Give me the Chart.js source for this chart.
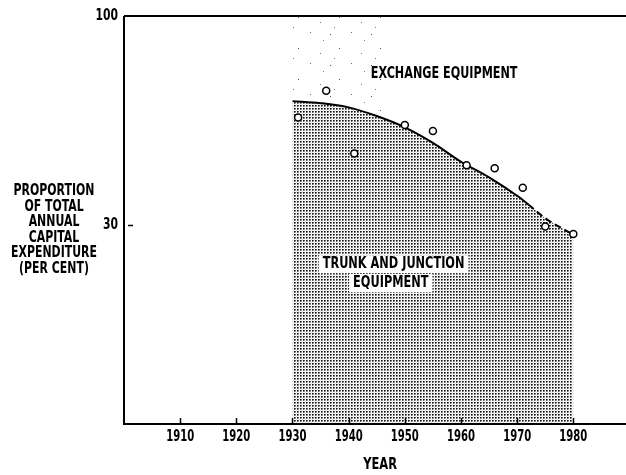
<!DOCTYPE html>
<html>
<head>
<meta charset="utf-8">
<script src="https://cdn.jsdelivr.net/npm/chart.js@4"></script>
<style>
  html, body { margin: 0; padding: 0; background: #fff; }
  canvas { display: block; }
</style>
</head>
<body>
<canvas id="c" width="626" height="475"></canvas>
<script>
// ---- data ----
const xTickYears = [1910, 1920, 1930, 1940, 1950, 1960, 1970, 1980];
const yTickValues = [30, 100];
const pointYears  = [1931, 1936, 1941, 1950, 1955, 1961, 1966, 1971, 1975, 1980];
const pointShares = [66, 75, 54, 63.5, 61.5, 50, 49, 42.5, 29.5, 27];
const curveYears  = [1930, 1935, 1940, 1945, 1950, 1955, 1960, 1965, 1970, 1972, 1975, 1980];
const curveShares = [71.5, 70.8, 69.4, 66.5, 62.7, 57.5, 51.2, 46.0, 39.8, 36.9, 32.3, 26.8];
const dashFromYear = 1972;
const exchangeYears = [1930, 1946];
const exchangeTop = [100, 100];
const yTitleLines = ['PROPORTION', 'OF TOTAL', 'ANNUAL', 'CAPITAL', 'EXPENDITURE', '(PER CENT)'];
const xTitle = 'YEAR';
const exchangeLabel = 'EXCHANGE EQUIPMENT';
const trunkLabelLines = ['TRUNK AND JUNCTION', 'EQUIPMENT'];

const FONT = "'DejaVu Sans Condensed', 'DejaVu Sans', sans-serif";

function makePattern(w, h, base, dots) {
  const c = document.createElement('canvas');
  c.width = w; c.height = h;
  const g = c.getContext('2d');
  g.fillStyle = base; g.fillRect(0, 0, w, h);
  dots.forEach(([x, y, col]) => { g.fillStyle = col; g.fillRect(x, y, 1, 1); });
  return g.createPattern(c, 'repeat');
}
const densePattern = makePattern(3, 3, '#ffffff', [[0,0,'#111'],[1,0,'#5a5a5a'],[0,1,'#666'],[1,1,'#aaa'],[2,2,'#e0e0e0']]);
const sparsePattern = makePattern(41, 31, 'rgba(255,255,255,0)', [[2,3,'#555'],[23,1,'#666'],[11,17,'#555'],[33,22,'#777'],[36,9,'#888'],[6,27,'#777']]);

const xy = (xs, ys) => xs.map((x, i) => ({ x, y: ys[i] }));

// draw horizontally condensed text (the reference uses a tall, narrow typeface)
function condText(ctx, t, x, y, sx, align) {
  ctx.save();
  ctx.translate(x, y);
  ctx.scale(sx, 1);
  ctx.textAlign = align || 'center';
  ctx.fillText(t, 0, 0);
  ctx.restore();
}

const framePlugin = {
  id: 'frame',
  afterDatasetsDraw(chart) {
    const { ctx, chartArea: a, scales: { x, y } } = chart;
    ctx.save();
    ctx.strokeStyle = '#000';
    ctx.lineWidth = 2;
    ctx.beginPath();
    ctx.moveTo(a.left, a.top); ctx.lineTo(chart.width, a.top);
    ctx.moveTo(a.left, a.top); ctx.lineTo(a.left, a.bottom + 1);
    ctx.moveTo(a.left - 1, a.bottom); ctx.lineTo(chart.width, a.bottom);
    ctx.stroke();
    // inward tick marks
    ctx.lineWidth = 1.5;
    ctx.beginPath();
    x.ticks.forEach(t => {
      const px = Math.round(x.getPixelForValue(t.value)) + 0.5;
      ctx.moveTo(px, a.bottom); ctx.lineTo(px, a.bottom - 6);
    });
    const py = Math.round(y.getPixelForValue(30)) + 0.5;
    ctx.moveTo(a.left + 4, py); ctx.lineTo(a.left + 9, py);
    ctx.stroke();

    ctx.fillStyle = '#000';
    ctx.textBaseline = 'middle';
    // tick labels (from the scales' own ticks)
    ctx.font = 'bold 16px ' + FONT;
    x.ticks.forEach(t => condText(ctx, String(t.value), x.getPixelForValue(t.value), a.bottom + 13, 0.7));
    y.ticks.forEach(t => condText(ctx, String(t.value), a.left - 6, y.getPixelForValue(t.value), 0.75, 'right'));

    ctx.font = 'bold 15px ' + FONT;
    // y title (horizontal, multi-line)
    const cy = y.getPixelForValue(30) + 5;
    yTitleLines.forEach((t, i) => condText(ctx, t, a.left - 70, cy + (i - 2.5) * 15.6, 0.81));
    // x title
    condText(ctx, xTitle, x.getPixelForValue(1945.6), chart.height - 10, 0.85);
    // exchange label
    condText(ctx, exchangeLabel, x.getPixelForValue(1957), y.getPixelForValue(80.6), 0.83);
    // trunk labels with white boxes
    const tp = [[1948, 16.9], [1947.5, 10.6]];
    trunkLabelLines.forEach((t, i) => {
      const px = x.getPixelForValue(tp[i][0]);
      const pyy = y.getPixelForValue(tp[i][1]);
      const w = ctx.measureText(t).width * 0.84;
      ctx.fillStyle = '#fff';
      ctx.fillRect(px - w / 2 - 4, pyy - 9, w + 8, 18);
      ctx.fillStyle = '#000';
      condText(ctx, t, px, pyy, 0.84);
    });
    ctx.restore();
  }
};

new Chart(document.getElementById('c'), {
  type: 'scatter',
  data: {
    datasets: [
      {
        label: 'Observed',
        data: xy(pointYears, pointShares),
        showLine: false,
        pointStyle: 'circle',
        pointRadius: 3.5,
        pointBorderWidth: 1.5,
        pointBorderColor: '#000',
        pointBackgroundColor: '#fff'
      },
      {
        label: 'Fitted trend',
        data: xy(curveYears, curveShares),
        showLine: true,
        borderColor: '#000',
        borderWidth: 2,
        pointRadius: 0,
        cubicInterpolationMode: 'monotone',
        fill: false,
        segment: {
          borderDash: ctx => ctx.p0.parsed.x >= dashFromYear ? [7, 4] : undefined
        }
      },
      {
        label: 'Trunk and junction equipment',
        data: xy(curveYears, curveShares),
        showLine: true,
        borderWidth: 0,
        borderColor: 'rgba(0,0,0,0)',
        pointRadius: 0,
        cubicInterpolationMode: 'monotone',
        fill: 'start',
        backgroundColor: densePattern
      },
      {
        label: 'Exchange equipment',
        data: xy(exchangeYears, exchangeTop),
        showLine: true,
        borderWidth: 0,
        borderColor: 'rgba(0,0,0,0)',
        pointRadius: 0,
        fill: 'start',
        backgroundColor: sparsePattern
      }
    ]
  },
  options: {
    responsive: false,
    devicePixelRatio: 1,
    animation: false,
    layout: { padding: { top: 16, left: 0, right: 0, bottom: 0 } },
    plugins: { legend: { display: false }, tooltip: { enabled: false } },
    scales: {
      x: {
        type: 'linear',
        min: 1900,
        max: 1988.4,
        afterBuildTicks: s => { s.ticks = xTickYears.map(v => ({ value: v })); },
        afterFit: s => { s.height = 51; },
        grid: { display: false, drawTicks: false },
        border: { display: false },
        ticks: { display: false }
      },
      y: {
        type: 'linear',
        min: -36.6,
        max: 100,
        afterBuildTicks: s => { s.ticks = yTickValues.map(v => ({ value: v })); },
        afterFit: s => { s.width = 124; },
        grid: { display: false, drawTicks: false },
        border: { display: false },
        ticks: { display: false }
      }
    }
  },
  plugins: [framePlugin]
});
</script>
</body>
</html>
